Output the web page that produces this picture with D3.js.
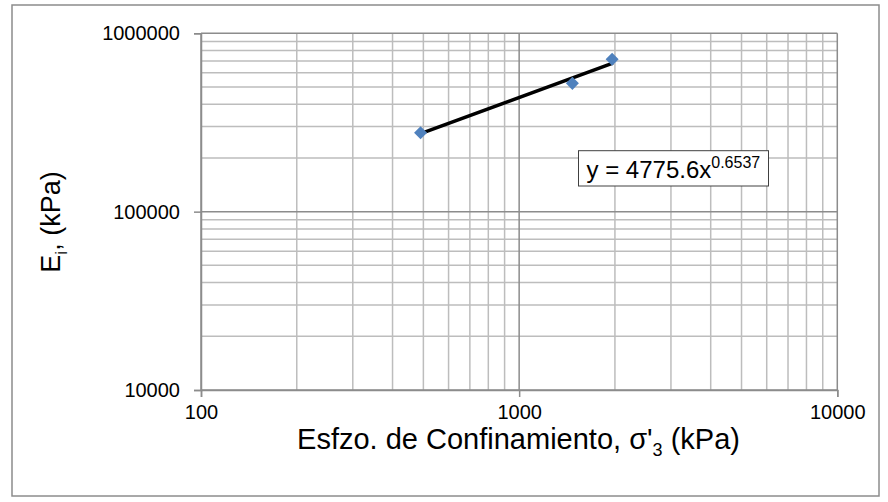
<!DOCTYPE html>
<html>
<head>
<meta charset="utf-8">
<script src="https://cdn.jsdelivr.net/npm/d3@7"></script>
<style>
  html, body { margin: 0; padding: 0; background: #fff; }
  svg { display: block; font-family: "Liberation Sans", Arial, sans-serif; }
</style>
</head>
<body>
<svg id="chart" width="888" height="502"></svg>
<script>
// ---- data ----
const confiningStress = [490, 1470, 1960];          // σ'3 (kPa)
const initialModulus  = [277000, 524000, 715000];   // Ei (kPa)
const xTickValues = [100, 1000, 10000];
const yTickValues = [10000, 100000, 1000000];
const trendCoef = 4775.6;
const trendExp  = 0.6537;
const equationMain = "y = 4775.6x";
const equationSup  = "0.6537";
const xTitle = "Esfzo. de Confinamiento, σ'";
const yTitle = "E";

const svg = d3.select("#chart");
const plot = { left: 201, right: 837.3, top: 33.3, bottom: 390 };

// outer frame
svg.append("rect")
  .attr("x", 12).attr("y", 5).attr("width", 867).attr("height", 491)
  .attr("fill", "#fff").attr("stroke", "#8c8c8c").attr("stroke-width", 1.5);

const x = d3.scaleLog().domain([100, 10000]).range([plot.left, plot.right]);
const y = d3.scaleLog().domain([10000, 1000000]).range([plot.bottom, plot.top]);

const xMinor = x.ticks().filter(v => !xTickValues.includes(v));
const yMinor = y.ticks().filter(v => !yTickValues.includes(v));

const grid = svg.append("g");
grid.selectAll(".xm").data(xMinor).join("line")
  .attr("x1", d => x(d)).attr("x2", d => x(d))
  .attr("y1", plot.top).attr("y2", plot.bottom)
  .attr("stroke", "#bdbdbd").attr("stroke-width", 1.5);
grid.selectAll(".ym").data(yMinor).join("line")
  .attr("y1", d => y(d)).attr("y2", d => y(d))
  .attr("x1", plot.left).attr("x2", plot.right)
  .attr("stroke", "#bdbdbd").attr("stroke-width", 1.5);
grid.selectAll(".xM").data(xTickValues).join("line")
  .attr("x1", d => x(d)).attr("x2", d => x(d))
  .attr("y1", plot.top).attr("y2", plot.bottom)
  .attr("stroke", "#8c8c8c").attr("stroke-width", 1.5);
grid.selectAll(".yM").data(yTickValues).join("line")
  .attr("y1", d => y(d)).attr("y2", d => y(d))
  .attr("x1", plot.left).attr("x2", plot.right)
  .attr("stroke", "#8c8c8c").attr("stroke-width", 1.5);

// axes
const xAxis = d3.axisBottom(x).tickValues(xTickValues).tickFormat(d3.format("d"))
  .tickSize(7).tickPadding(6);
const yAxis = d3.axisLeft(y).tickValues(yTickValues).tickFormat(d3.format("d"))
  .tickSize(7).tickPadding(14);

const gx = svg.append("g").attr("transform", `translate(0,${plot.bottom})`).call(xAxis);
const gy = svg.append("g").attr("transform", `translate(${plot.left},0)`).call(yAxis);
[gx, gy].forEach(g => {
  g.select(".domain").attr("stroke", "#8c8c8c").attr("stroke-width", 1.5);
  g.selectAll(".tick line").attr("stroke", "#8c8c8c").attr("stroke-width", 1.5);
  g.selectAll(".tick text").attr("fill", "#000")
    .style("font-family", "'Liberation Sans', Arial, sans-serif").style("font-size", "20px");
});
gx.selectAll(".tick text").attr("dy", "0.8em");

// trendline (power fit from the chart's equation)
const xr = d3.extent(confiningStress);
const trendPts = [xr[0], xr[1]].map(v => [v, trendCoef * Math.pow(v, trendExp)]);
svg.append("path")
  .datum(trendPts)
  .attr("d", d3.line().x(d => x(d[0])).y(d => y(d[1])))
  .attr("fill", "none").attr("stroke", "#000").attr("stroke-width", 3.5)
  .attr("stroke-linecap", "round");

// data points (diamonds)
const sym = d3.symbol().type(d3.symbolSquare).size(85);
svg.selectAll(".pt").data(confiningStress.map((v, i) => [v, initialModulus[i]])).join("path")
  .attr("d", sym)
  .attr("transform", d => `translate(${x(d[0])},${y(d[1])}) rotate(45)`)
  .attr("fill", "#4f81bd");

// equation label
const eq = svg.append("g");
eq.append("rect")
  .attr("x", 578.5).attr("y", 150.7).attr("width", 190).attr("height", 35.3)
  .attr("fill", "#fff").attr("stroke", "#404040").attr("stroke-width", 1);
const eqText = eq.append("text")
  .attr("x", 586.5).attr("y", 178)
  .style("font-size", "24px").attr("fill", "#000");
eqText.append("tspan").text(equationMain);
eqText.append("tspan").attr("dy", -10).style("font-size", "16px").text(equationSup);

// axis titles
const xt = svg.append("text")
  .attr("x", 518.5).attr("y", 449)
  .attr("text-anchor", "middle").style("font-size", "29px").attr("fill", "#000");
xt.append("tspan").text(xTitle);
xt.append("tspan").attr("dy", 7).style("font-size", "18px").text("3");
xt.append("tspan").attr("dy", -7).text(" (kPa)");

const yt = svg.append("text")
  .attr("transform", `translate(60,222) rotate(-90)`)
  .attr("text-anchor", "middle").style("font-size", "27px").attr("fill", "#000");
yt.append("tspan").text(yTitle);
yt.append("tspan").attr("dy", 7).style("font-size", "17px").text("i");
yt.append("tspan").attr("dy", -7).text(", (kPa)");
</script>
</body>
</html>
